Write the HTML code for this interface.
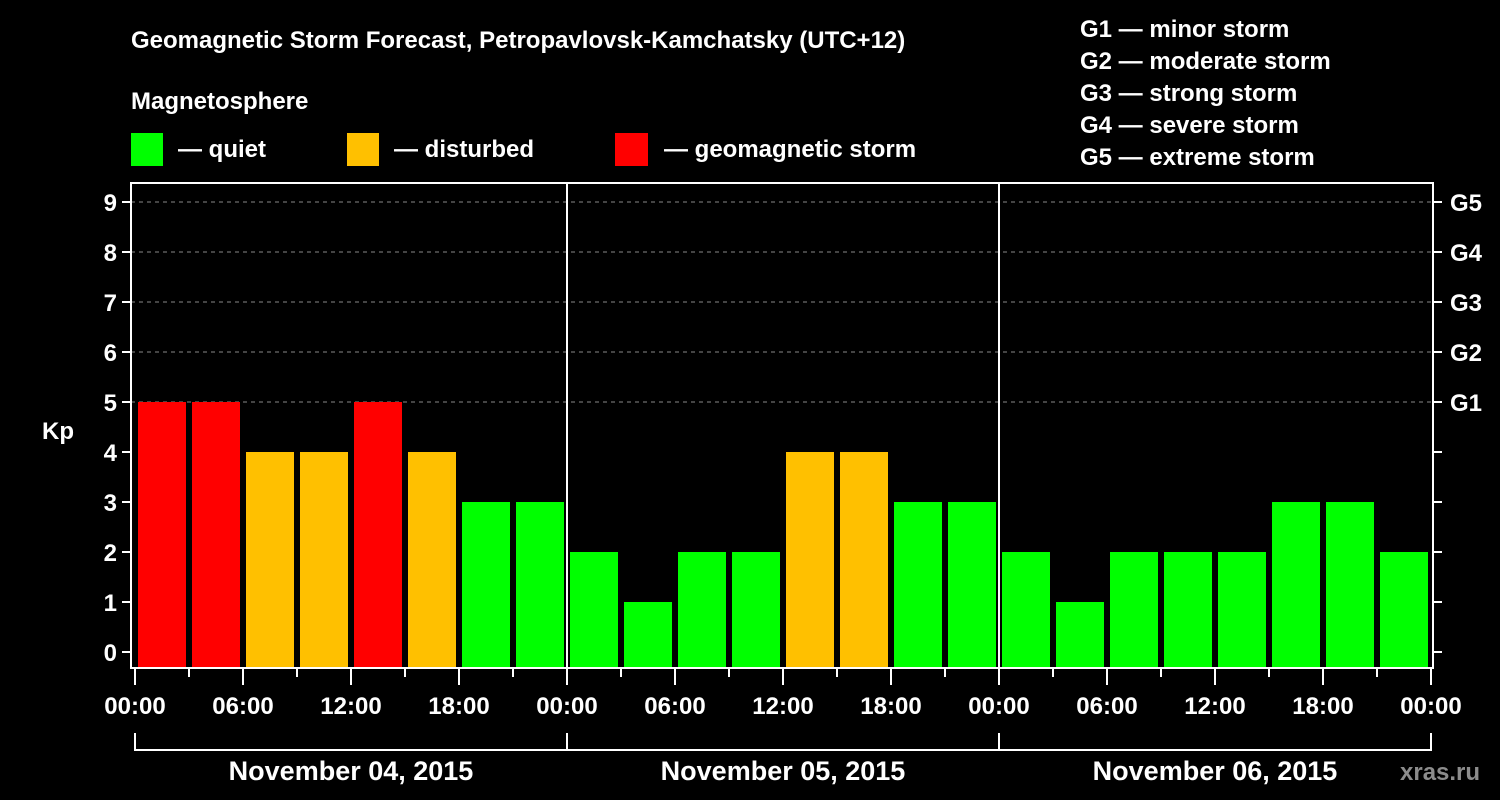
<!DOCTYPE html>
<html><head><meta charset="utf-8"><style>
html,body{margin:0;padding:0;background:#000;}
svg{display:block;font-family:"Liberation Sans",Arial,sans-serif;font-weight:bold;}
</style></head><body>
<svg id="chart" width="1500" height="800" viewBox="0 0 1500 800" xmlns="http://www.w3.org/2000/svg">
<rect width="1500" height="800" fill="#000"/>
<text x="131" y="48" fill="#fff" font-size="24">Geomagnetic Storm Forecast, Petropavlovsk-Kamchatsky (UTC+12)</text>
<text x="131" y="109" fill="#fff" font-size="24">Magnetosphere</text>
<g><rect x="131" y="133" width="32" height="33" fill="#00ff00"/><text x="178" y="157" fill="#fff" font-size="24">— quiet</text></g>
<g><rect x="347" y="133" width="32" height="33" fill="#ffc000"/><text x="394" y="157" fill="#fff" font-size="24">— disturbed</text></g>
<g><rect x="615" y="133" width="33" height="33" fill="#ff0000"/><text x="664" y="157" fill="#fff" font-size="24">— geomagnetic storm</text></g>
<g fill="#fff" font-size="24">
<text x="1080" y="37">G1 — minor storm</text>
<text x="1080" y="69">G2 — moderate storm</text>
<text x="1080" y="101">G3 — strong storm</text>
<text x="1080" y="133">G4 — severe storm</text>
<text x="1080" y="165">G5 — extreme storm</text>
</g>
<text x="42" y="439" fill="#fff" font-size="24">Kp</text>
<g id="grid"></g>
<g id="bars"></g>
<g id="axes"></g>
<text x="1400" y="780" fill="#8c8c8c" font-size="24">xras.ru</text>
</svg>
<script>
const days = ["November 04, 2015","November 05, 2015","November 06, 2015"];
const kpValues = [5,5,4,4,5,4,3,3, 2,1,2,2,4,4,3,3, 2,1,2,2,2,3,3,2];
const yTicks = [0,1,2,3,4,5,6,7,8,9];
const gLabels = ["G1","G2","G3","G4","G5"];
const hourLabels = ["00:00","06:00","12:00","18:00"];

const NS="http://www.w3.org/2000/svg";
const X0=135, SLOT=54, Y0=652, UNIT=50, BOTTOM=668, TOP=183, LEFT=131, RIGHT=1433;
const xs = i => X0 + i*SLOT;
const ys = v => Y0 - v*UNIT;
function mk(tag, attrs, parent){const e=document.createElementNS(NS,tag);for(const k in attrs)e.setAttribute(k,attrs[k]);parent.appendChild(e);return e;}
const grid=document.getElementById('grid'), bars=document.getElementById('bars'), axes=document.getElementById('axes');

yTicks.forEach(v=>{
  if(v>=5){const l=mk('line',{x1:LEFT,x2:RIGHT,y1:ys(v),y2:ys(v),stroke:'#888','stroke-width':1,'stroke-dasharray':'4,4'},grid);
  
  }
  const t=mk('line',{x1:LEFT-9,x2:LEFT,y1:ys(v),y2:ys(v),stroke:'#fff','stroke-width':2},axes);
  
  
  const r=mk('line',{x1:RIGHT,x2:RIGHT+9,y1:ys(v),y2:ys(v),stroke:'#fff','stroke-width':2},axes);
  
  
  const lb=mk('text',{x:LEFT-14,y:ys(v)+9,fill:'#fff','font-size':24,'text-anchor':'end'},axes);
  lb.textContent=v;
  
  
});
gLabels.forEach((g,i)=>{
  const lb=mk('text',{x:1450,y:ys(5+i)+9,fill:'#fff','font-size':24},axes);
  lb.textContent=g;
  
  
});

kpValues.forEach((v,i)=>{
  const color = v>=5?'#ff0000':(v>=4?'#ffc000':'#00ff00');
  const b=mk('rect',{x:xs(i)+3,y:ys(v),width:SLOT-6,height:BOTTOM-1-ys(v),fill:color},bars);
  
  
});

const frame=mk('rect',{x:LEFT,y:TOP,width:RIGHT-LEFT,height:BOTTOM-TOP,fill:'none',stroke:'#fff','stroke-width':2},axes);



for(let d=1; d<days.length; d++){
  const l=mk('line',{x1:xs(d*8),x2:xs(d*8),y1:TOP,y2:BOTTOM,stroke:'#fff','stroke-width':2},axes);
  
  
}
for(let i=0;i<=kpValues.length;i++){
  const major = i%2===0;
  const t=mk('line',{x1:xs(i),x2:xs(i),y1:BOTTOM,y2:major?685:677,stroke:'#fff','stroke-width':2},axes);
  
  
  if(major){
    const lb=mk('text',{x:xs(i),y:714,fill:'#fff','font-size':24,'text-anchor':'middle'},axes);
    lb.textContent=hourLabels[(i/2)%4];
    
    
  }
}
days.forEach((d,k)=>{
  const a=xs(k*8), b=xs(k*8+8);
  const p=mk('path',{d:`M${a},733 V750 H${b} V733`,fill:'none',stroke:'#fff','stroke-width':2},axes);
  
  
  const t=mk('text',{x:(a+b)/2,y:780,fill:'#fff','font-size':27,'text-anchor':'middle'},axes);
  t.textContent=d;
  
  
});
</script>
</body></html>
